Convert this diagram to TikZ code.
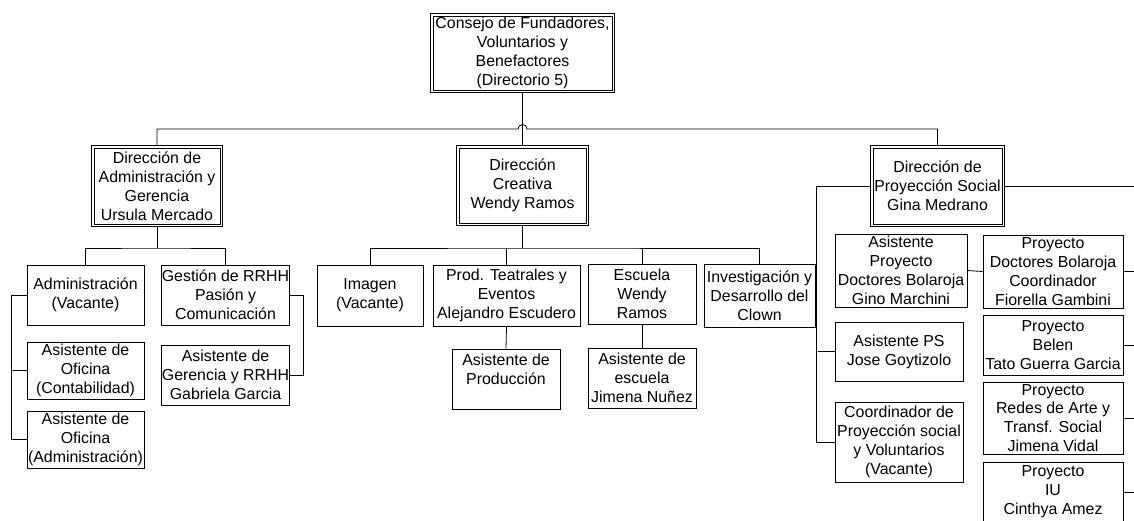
\documentclass[tikz,border=0pt]{standalone}
\usepackage{fontspec}
\setmainfont{Liberation Sans}
\usepackage{tikz}

\begin{document}
\begin{tikzpicture}[x=1pt, y=-1pt,
	unit/.style={draw=black, line width=0.8pt, rectangle, align=center, inner sep=0pt,
		font=\fontsize{15.9}{18.9}\selectfont},
	head/.style={unit, line width=0.7pt},
	frame/.style={draw=black, line width=0.7pt},
	link/.style={draw=black, line width=0.8pt}]
	\useasboundingbox (0,0) rectangle (1134,520);
	% council and the three directions
	\node[head, minimum width=184pt, minimum height=79pt] (council) at (522.5,53) {Consejo de Fundadores,\\Voluntarios y\\Benefactores\\ (Directorio 5)};
	\node[head, minimum width=131pt, minimum height=81pt] (adm) at (157,186) {Dirección de\\Administración y\\Gerencia\\Ursula Mercado};
	\node[head, minimum width=132pt, minimum height=80pt] (creative) at (522.5,185.5) {Dirección\\Creativa\\Wendy Ramos};
	\node[head, minimum width=134pt, minimum height=81pt] (social) at (937.5,186) {Dirección de\\Proyección Social\\Gina Medrano};
	\foreach \h in {council,adm,creative,social}
		\draw[frame] ([shift={(3pt,-3pt)}]\h.north west) rectangle ([shift={(-3pt,3pt)}]\h.south east);
	% administration
	\node[unit, minimum width=117pt, minimum height=60pt] (admA) at (85.5,295) {Administración\\(Vacante)};
	\node[unit, minimum width=127pt, minimum height=60pt] (gestion) at (225.5,295) {Gestión de RRHH\\Pasión y\\Comunicación};
	\node[unit, minimum width=117pt, minimum height=57pt] (oficC) at (85.5,370.5) {Asistente de\\Oficina\\(Contabilidad)};
	\node[unit, minimum width=117pt, minimum height=57pt] (oficA) at (85.5,439.5) {Asistente de\\Oficina\\(Administración)};
	\node[unit, minimum width=127pt, minimum height=60pt] (asisGer) at (225.5,375) {Asistente de\\Gerencia y RRHH\\Gabriela Garcia};
	% creative
	\node[unit, minimum width=106pt, minimum height=61pt] (imagen) at (370,295.5) {Imagen\\(Vacante)};
	\node[unit, minimum width=147pt, minimum height=61pt] (prod) at (506.5,295.5) {Prod. Teatrales y\\Eventos\\Alejandro Escudero};
	\node[unit, minimum width=108pt, minimum height=60pt] (escuela) at (642,294) {Escuela\\Wendy\\Ramos};
	\node[unit, minimum width=111pt, minimum height=63pt] (invest) at (759.5,295.5) {Investigación y\\Desarrollo del\\Clown};
	\node[unit, minimum width=108pt, minimum height=60pt] (asisProd) at (506,379) {Asistente de\\Producción\\\mbox{}};
	\node[unit, minimum width=108pt, minimum height=60pt] (asisEsc) at (642,378) {Asistente de\\escuela\\Jimena Nuñez};
	% social projection
	\node[unit, minimum width=132pt, minimum height=73pt] (asisDoc) at (901,270.5) {Asistente\\Proyecto\\Doctores Bolaroja\\Gino Marchini};
	\node[unit, minimum width=128pt, minimum height=59pt] (asisPS) at (899,351.5) {Asistente PS\\Jose Goytizolo};
	\node[unit, minimum width=128pt, minimum height=80pt] (coordPS) at (899,442) {Coordinador de\\Proyección social\\y Voluntarios\\ (Vacante)};
	\node[unit, minimum width=140pt, minimum height=73pt] (pDoc) at (1053,271.5) {Proyecto\\Doctores Bolaroja\\Coordinador\\Fiorella Gambini};
	\node[unit, minimum width=140pt, minimum height=60pt] (pBelen) at (1053,345) {Proyecto\\Belen\\Tato Guerra Garcia};
	\node[unit, minimum width=140pt, minimum height=72pt] (pRedes) at (1053,418) {Proyecto\\Redes de Arte y\\Transf. Social\\Jimena Vidal};
	\node[unit, minimum width=140pt, minimum height=60pt] (pIU) at (1053,492) {Proyecto\\IU\\Cinthya Amez};
	% connectors
	\coordinate (hop) at (522.5,129);
	\coordinate (busA) at (157,248);
	\coordinate (busC) at (522.5,248);
	\draw[link] (council.south) -- (creative.north);
	\draw[link] (adm.north) |- ([xshift=-4.5pt]hop) arc[start angle=180, end angle=0, radius=4.5pt] -| (social.north);
	\draw[link] (adm.south) -- (busA);
	\draw[link] (admA.north) |- (busA) -| (gestion.north);
	\draw[link] (admA.west) -- ++(-15,0) |- (oficA.west);
	\draw[link] (oficC.west) -- ++(-15,0);
	\draw[link] (gestion.east) -- ++(14,0) |- (asisGer.east);
	\draw[link] (creative.south) -- (busC);
	\draw[link] (imagen.north) |- (busC) -| (invest.north);
	\draw[link] (prod.north) -- (prod.north |- busC);
	\draw[link] (escuela.north) -- (escuela.north |- busC);
	\draw[link] (prod.south) -- (asisProd.north);
	\draw[link] (escuela.south) -- (asisEsc.north);
	\draw[link] (social.west) -- ++(-54,0) |- (coordPS.west);
	\draw[link] (asisPS.west) -- ++(-17,0);
	\draw[link] (social.east) -- ++(132,0);
	\draw[link] (asisDoc.east) -- (pDoc.west);
	\foreach \p in {pDoc,pBelen,pRedes,pIU}
		\draw[link] (\p.east) -- ++(12,0);
\end{tikzpicture}
\end{document}
